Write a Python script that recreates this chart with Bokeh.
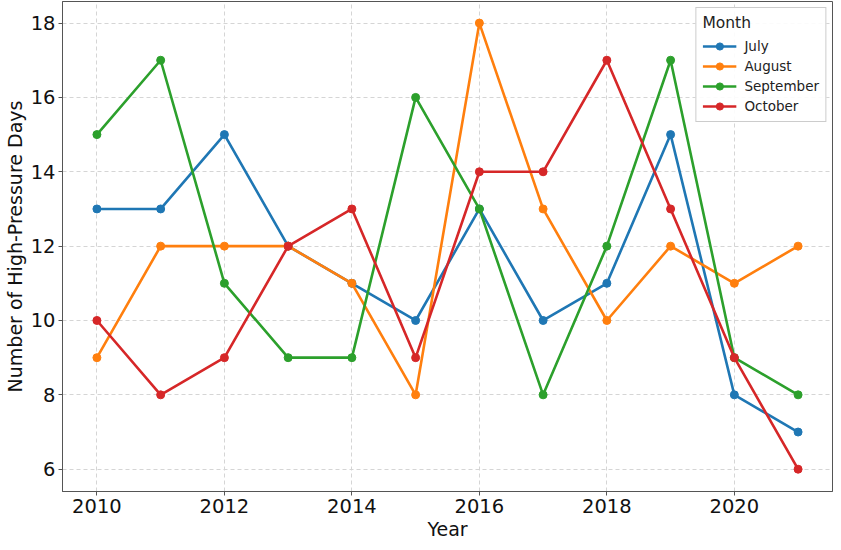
from bokeh.plotting import figure
from bokeh.models import Range1d, FixedTicker, Legend, LegendItem
from bokeh.embed import file_html
from bokeh.resources import INLINE

years = [2010, 2011, 2012, 2013, 2014, 2015, 2016, 2017, 2018, 2019, 2020, 2021]
july = [13, 13, 15, 12, 11, 10, 13, 10, 11, 15, 8, 7]
august = [9, 12, 12, 12, 11, 8, 18, 13, 10, 12, 11, 12]
september = [15, 17, 11, 9, 9, 16, 13, 8, 12, 17, 9, 8]
october = [10, 8, 9, 12, 13, 9, 14, 14, 17, 13, 9, 6]
series_names = ["July", "August", "September", "October"]
colors = ["#1f77b4", "#ff7f0e", "#2ca02c", "#d62728"]
x_ticks = [2010, 2012, 2014, 2016, 2018, 2020]
y_ticks = [6, 8, 10, 12, 14, 16, 18]

FONT = "DejaVu Sans"

p = figure(width=833, height=542, output_backend="svg", toolbar_location=None,
           x_range=Range1d(2009.46, 2021.54), y_range=Range1d(5.4, 18.58),
           min_border_left=50, min_border_right=1, min_border_top=1, min_border_bottom=40)

items = []
for name, vals, c in zip(series_names, [july, august, september, october], colors):
    r1 = p.line(years, vals, line_color=c, line_width=2.6)
    r2 = p.scatter(years, vals, size=8, fill_color=c, line_color=c)
    items.append(LegendItem(label=name, renderers=[r1, r2]))

legend = Legend(items=items, location="top_right", title="Month",
                title_text_font=FONT, title_text_font_size="15.5px", title_text_font_style="normal",
                title_text_color="#222222",
                label_text_font=FONT, label_text_font_size="13.5px", label_text_color="#222222",
                border_line_color="#cccccc", border_line_alpha=1, background_fill_alpha=0.9,
                glyph_width=34, glyph_height=18, spacing=2, padding=6, margin=6,
                label_standoff=8, label_height=18)
p.add_layout(legend)

p.xaxis.ticker = FixedTicker(ticks=x_ticks)
p.yaxis.ticker = FixedTicker(ticks=y_ticks)
p.xaxis.axis_label = "Year"
p.yaxis.axis_label = "Number of High-Pressure Days"
for ax in [p.xaxis[0], p.yaxis[0]]:
    ax.axis_label_text_font = FONT
    ax.axis_label_text_font_size = "19px"
    ax.axis_label_text_font_style = "normal"
    ax.axis_label_text_color = "#111111"
    ax.major_label_text_font = FONT
    ax.major_label_text_font_size = "19.5px"
    ax.major_label_text_color = "#111111"
    ax.axis_line_color = "#555555"
    ax.major_tick_line_color = "#555555"
    ax.major_tick_in = 0
    ax.major_tick_out = 4
    ax.minor_tick_line_color = None
    ax.axis_label_standoff = 2
    ax.major_label_standoff = 3

p.xgrid.grid_line_dash = "4 3"
p.ygrid.grid_line_dash = "4 3"
p.xgrid.grid_line_color = "#d5d5d5"
p.ygrid.grid_line_color = "#d5d5d5"
p.outline_line_color = "#555555"
p.outline_line_width = 1

open("out.html", "w").write(file_html(p, INLINE))
